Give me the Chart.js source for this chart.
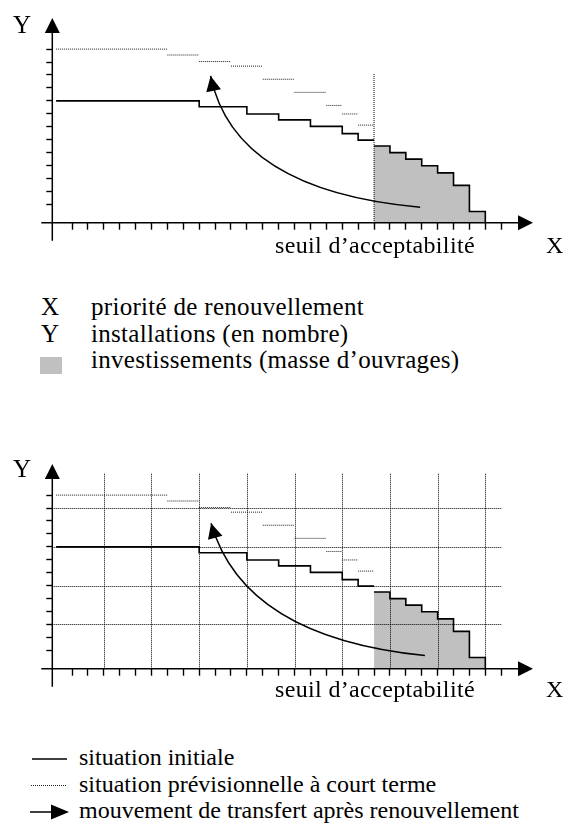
<!DOCTYPE html>
<html>
<head>
<meta charset="utf-8">
<script src="https://cdn.jsdelivr.net/npm/chart.js@4.4.0/dist/chart.umd.min.js"></script>
<style>
  body { margin: 0; width: 565px; height: 829px; position: relative; overflow: hidden; background: #fff;
         font-family: "Liberation Serif", "DejaVu Serif", serif; color: #000; }
  canvas { position: absolute; left: 0; }
  .t { position: absolute; white-space: nowrap; line-height: 1; }
  .axis { font-size: 25px; }
  .seuil { font-size: 24px; letter-spacing: 0.35px; }
  .leg1 { font-size: 25px; letter-spacing: 0.3px; }
  .leg2 { font-size: 24px; }
</style>
</head>
<body>
<canvas id="chartTop" width="565" height="260" style="top:0"></canvas>
<canvas id="chartBottom" width="565" height="260" style="top:446px"></canvas>

<!-- first diagram -->
<span class="t axis" style="left:13px;top:12px">Y</span>
<span class="t axis" style="left:546px;top:233px;font-size:24px">X</span>
<span class="t seuil" style="left:275px;top:233px">seuil d’acceptabilité</span>

<span class="t leg1" style="left:41px;top:294px">X</span>
<span class="t leg1" style="left:91px;top:294px">priorité de renouvellement</span>
<span class="t leg1" style="left:41px;top:321px">Y</span>
<span class="t leg1" style="left:91px;top:321px">installations (en nombre)</span>
<div style="position:absolute;left:40px;top:357px;width:22px;height:17px;background:#c0c0c0"></div>
<span class="t leg1" style="left:91px;top:347px">investissements (masse d’ouvrages)</span>

<!-- second diagram -->
<span class="t axis" style="left:13px;top:456px">Y</span>
<span class="t axis" style="left:546px;top:677px;font-size:24px">X</span>
<span class="t seuil" style="left:275px;top:677px">seuil d’acceptabilité</span>

<svg style="position:absolute;left:0;top:740px" width="80" height="89">
  <line x1="32" y1="19" x2="67" y2="19" stroke="#000" stroke-width="1.5"/>
  <line x1="31" y1="45.5" x2="66" y2="45.5" stroke="#222" stroke-width="1" stroke-dasharray="1 1"/>
  <line x1="30" y1="72" x2="53" y2="72" stroke="#000" stroke-width="1.5"/>
  <polygon points="51,64.5 69,72 51,79.5" fill="#000"/>
</svg>
<span class="t leg2" style="left:79px;top:745px">situation initiale</span>
<span class="t leg2" style="left:79px;top:772px">situation prévisionnelle à court terme</span>
<span class="t leg2" style="left:79px;top:798px">mouvement de transfert après renouvellement</span>

<script>
// x is counted in tick steps along the priority axis, y in installation units
const xTicks = [1, 2, 3, 4, 5, 6, 7, 8, 9, 10, 11, 12, 13, 14, 15, 16, 17, 18, 19, 20, 21, 22, 23, 24, 25, 26, 27, 28];
const yTicks = [2.8, 4.8, 6.8, 8.7, 10.7, 12.7, 14.7, 16.6, 18.6, 20.6, 22.6, 24.5, 26.5];

// initial situation (solid steps), edges then levels
const initialEdges = [0, 9, 12, 14, 16, 18, 19, 20];
const initialValues = [18.6, 17.7, 16.6, 15.7, 14.7, 13.6, 12.6];

// installations past the threshold (grey block)
const investEdges = [20, 21, 22, 23, 24, 25, 26, 27];
const investValues = [11.7, 10.7, 9.7, 8.7, 7.6, 5.7, 1.7];

// short term forecast (dotted pieces)
const forecastEdges = [0, 7, 9, 11, 13, 15, 17, 18, 19, 20];
const forecastValues = [26.5, 25.6, 24.6, 23.9, 21.9, 19.9, 17.9, 16.6, 14.9];

const thresholdX = 20;
const thresholdTop = 22.7;

// dotted grid of the second diagram
const gridX = [3, 6, 9, 12, 15, 18, 21, 24, 27];
const gridY = [6.8, 12.7, 18.6, 24.5];
const gridTop = 29.8;
const gridRight = 28;

// transfer arrow: tip, control point, tail
const transferTop = [[9.72, 22.4], [11.2, 4.9], [22.9, 2.35]];
const transferBottom = [[9.75, 22.2], [11.8, 4.8], [23.2, 2.0]];

const X_MIN = -0.24, X_MAX = 30, Y_MAX = 31.25;

function stepPoints(edges, values, lastY) {
  const pts = values.map((v, i) => ({ x: edges[i], y: v }));
  pts.push({ x: edges[edges.length - 1], y: lastY === undefined ? values[values.length - 1] : lastY });
  return pts;
}

function forecastPoints() {
  const pts = [];
  forecastValues.forEach((v, i) => {
    pts.push({ x: forecastEdges[i], y: v }, { x: forecastEdges[i + 1], y: v }, { x: forecastEdges[i + 1], y: null });
  });
  return pts;
}

function arrowHead(ctx, tx, ty, angle, len, half) {
  const cx = Math.cos(angle), sy = Math.sin(angle);
  const bx = tx - len * cx, by = ty - len * sy;
  ctx.beginPath();
  ctx.moveTo(tx, ty);
  ctx.lineTo(bx - half * sy, by + half * cx);
  ctx.lineTo(bx + half * sy, by - half * cx);
  ctx.closePath();
  ctx.fill();
}

function diagramPlugin(withGrid, transfer) {
  return {
    id: 'diagram',
    afterDatasetsDraw(chart) {
      const { ctx, chartArea: a, scales: { x, y } } = chart;
      ctx.save();
      ctx.strokeStyle = '#000';
      ctx.fillStyle = '#000';

      if (withGrid) {
        ctx.lineWidth = 1;
        ctx.setLineDash([1, 1]);
        ctx.beginPath();
        gridX.forEach(v => {
          const px = Math.round(x.getPixelForValue(v)) + 0.5;
          ctx.moveTo(px, y.getPixelForValue(0));
          ctx.lineTo(px, y.getPixelForValue(gridTop));
        });
        gridY.forEach(v => {
          const py = Math.round(y.getPixelForValue(v)) + 0.5;
          ctx.moveTo(x.getPixelForValue(X_MIN), py);
          ctx.lineTo(x.getPixelForValue(gridRight), py);
        });
        ctx.stroke();
        ctx.setLineDash([]);
      }

      // axes with arrow heads
      ctx.lineWidth = 1.5;
      ctx.beginPath();
      ctx.moveTo(a.left - 11, a.bottom);
      ctx.lineTo(a.right - 12, a.bottom);
      ctx.moveTo(a.left, a.bottom + 18);
      ctx.lineTo(a.left, a.top + 12);
      ctx.stroke();
      arrowHead(ctx, a.right, a.bottom, 0, 15, 7.5);
      arrowHead(ctx, a.left, a.top, -Math.PI / 2, 15, 7.5);

      // transfer curve
      const [tip, ctrl, end] = transfer.map(p => [x.getPixelForValue(p[0]), y.getPixelForValue(p[1])]);
      ctx.lineWidth = 1.5;
      ctx.beginPath();
      ctx.moveTo(end[0], end[1]);
      ctx.quadraticCurveTo(ctrl[0], ctrl[1], tip[0], tip[1]);
      ctx.stroke();
      arrowHead(ctx, tip[0], tip[1], Math.atan2(tip[1] - ctrl[1], tip[0] - ctrl[0]), 15, 7.5);

      ctx.restore();
    }
  };
}

function makeChart(id, withGrid, transfer) {
  const datasets = [];
  if (!withGrid) {
    datasets.push({
      data: [{ x: thresholdX, y: thresholdTop }, { x: thresholdX, y: 0 }],
      borderColor: '#000', borderWidth: 1, borderDash: [1, 1]
    });
  }
  datasets.push(
    { data: forecastPoints(), borderColor: '#1e1e1e', borderWidth: 1, borderDash: [1, 1], spanGaps: false },
    { data: stepPoints(initialEdges, initialValues), stepped: true, borderColor: '#000', borderWidth: 1.6 },
    { data: stepPoints(investEdges, investValues, 0), stepped: true, borderColor: '#000', borderWidth: 1.6,
      fill: 'origin', backgroundColor: '#c0c0c0' }
  );

  const tickGrid = len => ({ drawOnChartArea: false, drawTicks: true, tickLength: len, tickColor: '#000', tickWidth: 1.4 });

  return new Chart(document.getElementById(id), {
    type: 'line',
    data: { datasets },
    options: {
      responsive: false,
      animation: false,
      events: [],
      layout: { padding: { left: 42.3, right: 32, top: 18, bottom: 27.3 } },
      elements: { point: { radius: 0 }, line: { tension: 0 } },
      plugins: { legend: { display: false }, tooltip: { enabled: false } },
      scales: {
        x: {
          type: 'linear', min: X_MIN, max: X_MAX,
          afterBuildTicks: s => { s.ticks = xTicks.map(v => ({ value: v })); },
          afterFit: s => { s.height = 10; },
          ticks: { display: false },
          grid: tickGrid(7),
          border: { display: false }
        },
        y: {
          type: 'linear', min: 0, max: Y_MAX,
          afterBuildTicks: s => { s.ticks = yTicks.map(v => ({ value: v })); },
          afterFit: s => { s.width = 10; },
          ticks: { display: false },
          grid: tickGrid(6),
          border: { display: false }
        }
      }
    },
    plugins: [diagramPlugin(withGrid, transfer)]
  });
}

makeChart('chartTop', false, transferTop);
makeChart('chartBottom', true, transferBottom);
</script>
</body>
</html>
